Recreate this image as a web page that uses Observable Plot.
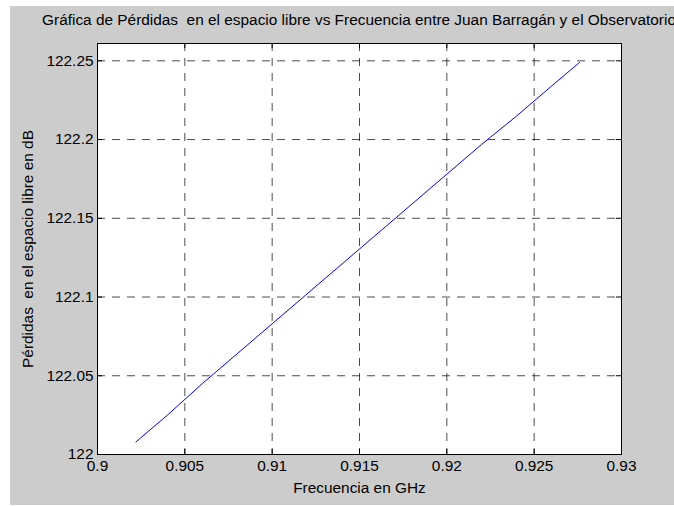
<!DOCTYPE html>
<html><head><meta charset="utf-8">
<script src="https://cdn.jsdelivr.net/npm/d3@7"></script>
<script src="https://cdn.jsdelivr.net/npm/@observablehq/plot@0.6"></script>
<style>
html,body{margin:0;padding:0;background:#fff;width:674px;height:506px;overflow:hidden;position:relative;}
#fig{position:absolute;left:10px;top:6px;width:664px;height:499px;background:#cccccc;}
#title{position:absolute;left:0;top:11px;width:718px;text-align:center;white-space:nowrap;font-family:"Liberation Sans",Arial,Helvetica,sans-serif;font-size:15.4px;line-height:18px;color:#000;}
#chart{position:absolute;left:0;top:0;}
</style></head><body>
<div id="fig"></div>
<div id="title">Gráfica de Pérdidas &nbsp;en el espacio libre vs Frecuencia entre Juan Barragán y el Observatorio</div>
<div id="chart"></div>
<script>
const frequencyGHz = [0.9022, 0.904, 0.906, 0.908, 0.910, 0.912, 0.914, 0.916, 0.918, 0.920, 0.922, 0.924, 0.926, 0.9276];
const lossDB = [122.008, 122.025, 122.045, 122.064, 122.083, 122.102, 122.121, 122.140, 122.159, 122.178, 122.197, 122.215, 122.234, 122.249];
const xTicks = [0.9, 0.905, 0.91, 0.915, 0.92, 0.925, 0.93];
const yTicks = [122, 122.05, 122.1, 122.15, 122.2, 122.25];
const xLabel = "Frecuencia en GHz";
const yLabel = "Pérdidas  en el espacio libre en dB";

const data = frequencyGHz.map((f, i) => ({f, L: lossDB[i]}));
const W = 674, H = 506, mL = 97, mR = 53, mT = 43, mB = 52;
const iw = W - mL - mR, ih = H - mT - mB, tl = 5;
const gridStyle = {stroke: "#000", strokeOpacity: 0.7, strokeDasharray: "8,7"};

const chart = Plot.plot({
  width: W, height: H,
  marginLeft: mL, marginRight: mR, marginTop: mT, marginBottom: mB,
  style: {background: "transparent", fontFamily: "'Liberation Sans', Arial, Helvetica, sans-serif", fontSize: "15.4px", color: "#000", overflow: "visible"},
  x: {domain: [0.9, 0.93]},
  y: {domain: [122, 122.261]},
  marks: [
    Plot.frame({fill: "white", stroke: null}),
    Plot.gridX({ticks: xTicks, ...gridStyle}),
    Plot.gridY({ticks: yTicks, ...gridStyle}),
    Plot.line(data, {x: "f", y: "L", stroke: "#0000ff", strokeWidth: 1}),
    Plot.ruleX(xTicks, {insetTop: ih - tl, stroke: "#000"}),
    Plot.ruleX(xTicks, {insetBottom: ih - tl, stroke: "#000"}),
    Plot.ruleY(yTicks, {insetRight: iw - tl, stroke: "#000"}),
    Plot.ruleY(yTicks, {insetLeft: iw - tl, stroke: "#000"}),
    Plot.frame({stroke: "#000", strokeWidth: 1}),
    Plot.axisX({ticks: xTicks, tickSize: 0, tickPadding: 6, tickFormat: d => String(+d.toFixed(3)), label: xLabel, labelAnchor: "center", labelOffset: 38, labelArrow: "none"}),
    Plot.axisY({ticks: yTicks, tickSize: 0, tickPadding: 4, tickFormat: d => String(+d.toFixed(2)), label: yLabel, labelAnchor: "center", labelOffset: 75, labelArrow: "none"})
  ]
});
document.getElementById("chart").appendChild(chart);
</script>
</body></html>
